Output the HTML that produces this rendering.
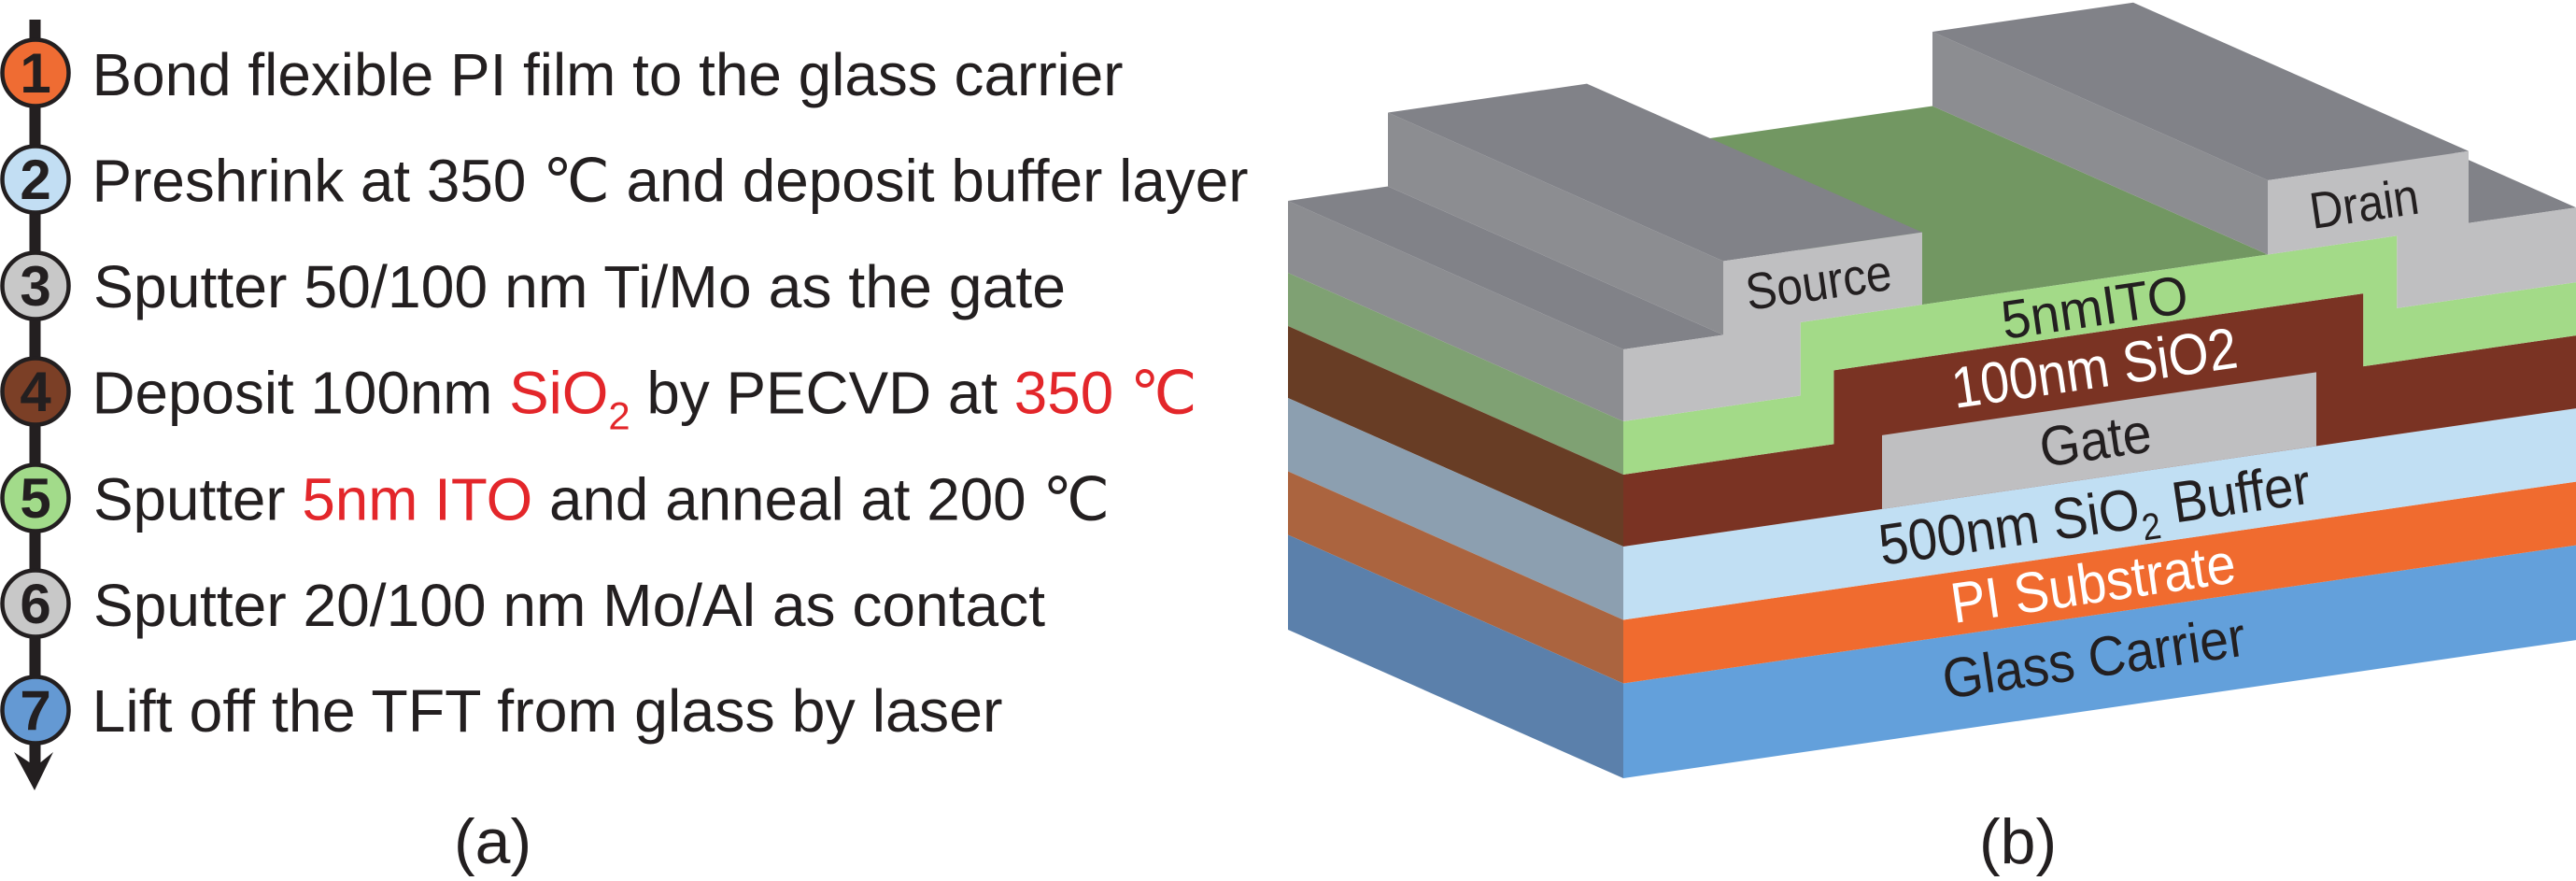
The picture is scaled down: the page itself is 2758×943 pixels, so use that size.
<!DOCTYPE html>
<html><head><meta charset="utf-8"><style>
html,body{margin:0;padding:0;background:#fff;}
svg{display:block;}
.t{font-family:"Liberation Sans","DejaVu Sans",sans-serif;fill:#231f20;}
.r{fill:#e3262a;}
.n{font-family:"Liberation Sans","DejaVu Sans",sans-serif;font-weight:bold;fill:#231f20;font-size:60px;}
</style></head><body>
<svg width="2758" height="943" viewBox="0 0 2758 943" xmlns="http://www.w3.org/2000/svg">
<rect width="2758" height="943" fill="#fff"/>

<!-- (a) timeline -->
<rect x="31.5" y="21" width="12" height="795" fill="#231f20"/>
<polygon points="15,805 31.5,816 43.5,816 57,805 37,846" fill="#231f20"/>
<g stroke="#231f20" stroke-width="4.5">
<circle cx="38" cy="78" r="35.5" fill="#ef6c33"/>
<circle cx="38" cy="192" r="35.5" fill="#c2def3"/>
<circle cx="38" cy="306" r="35.5" fill="#c8c8c8"/>
<circle cx="38" cy="419" r="35.5" fill="#7b3f26"/>
<circle cx="38" cy="533" r="35.5" fill="#a2db8a"/>
<circle cx="38" cy="646" r="35.5" fill="#c8c8c8"/>
<circle cx="38" cy="760" r="35.5" fill="#6499d3"/>
</g>
<g class="n" text-anchor="middle">
<text x="38" y="99">1</text>
<text x="38" y="213">2</text>
<text x="38" y="327">3</text>
<text x="38" y="440">4</text>
<text x="38" y="554">5</text>
<text x="38" y="667">6</text>
<text x="38" y="781">7</text>
</g>
<g class="t" font-size="64">
<text x="98.5" y="102" textLength="1104" lengthAdjust="spacingAndGlyphs">Bond flexible PI film to the glass carrier</text>
<text x="98.5" y="215.5" textLength="1238" lengthAdjust="spacingAndGlyphs">Preshrink at 350 ℃ and deposit buffer layer</text>
<text x="100" y="329" textLength="1041" lengthAdjust="spacingAndGlyphs">Sputter 50/100 nm Ti/Mo as the gate</text>
<text x="98.5" y="442.5" textLength="1183" lengthAdjust="spacingAndGlyphs">Deposit 100nm <tspan class="r">SiO</tspan><tspan class="r" font-size="42" dy="17">2</tspan><tspan dy="-17"> by PECVD at </tspan><tspan class="r">350 ℃</tspan></text>
<text x="100" y="556.5" textLength="1088" lengthAdjust="spacingAndGlyphs">Sputter <tspan class="r">5nm ITO</tspan> and anneal at 200 ℃</text>
<text x="100" y="670" textLength="1019" lengthAdjust="spacingAndGlyphs">Sputter 20/100 nm Mo/Al as contact</text>
<text x="98.5" y="783" textLength="975" lengthAdjust="spacingAndGlyphs">Lift off the TFT from glass by laser</text>
<text x="486" y="924" font-size="68">(a)</text>
<text x="2119" y="924" font-size="68">(b)</text>
</g>

<!-- (b) left side faces -->
<g>
<polygon points="1738,374 1738,451 1379,292 1379,215" fill="#8c8d91"/>
<polygon points="1738,451 1738,508 1379,349 1379,292" fill="#7fa173"/>
<polygon points="1738,508 1738,585 1379,426 1379,349" fill="#683d25"/>
<polygon points="1738,585 1738,663.5 1379,504.5 1379,426" fill="#8c9fb0"/>
<polygon points="1738,663.5 1738,731.5 1379,572.5 1379,504.5" fill="#ab643f"/>
<polygon points="1738,731.5 1738,833 1379,674 1379,572.5" fill="#5b80ab"/>
</g>
<!-- top faces -->
<g>
<polygon points="2643,238.8 2758,222.1 2399,63.1 2284,79.8" fill="#818288"/>
<polygon points="2058,326.1 2428,272.45 2069,113.45 1699,167.1" fill="#729762"/>
<polygon points="1738,374 1845,358.5 1486,199.5 1379,215" fill="#818288"/>
<polygon points="1845,358.5 1845,279.5 1486,120.5 1486,199.5" fill="#8c8d91"/>
<polygon points="1845,279.5 2058,248.6 1699,89.6 1486,120.5" fill="#818288"/>
<polygon points="2428,272.45 2428,192.95 2069,33.95 2069,113.45" fill="#8c8d91"/>
<polygon points="2428,192.95 2643,161.8 2284,2.8 2069,33.95" fill="#818288"/>
</g>
<!-- front faces -->
<g transform="matrix(1,-0.145,0,1,0,252.01)">
<polygon points="1738,731.5 2758,731.5 2758,833 1738,833" fill="#63a0db"/>
<polygon points="1738,663.5 2758,663.5 2758,731.5 1738,731.5" fill="#f06b2f"/>
<polygon points="1738,585 2758,585 2758,663.5 1738,663.5" fill="#c1dff3"/>
<polygon points="1738,585 1738,508 1963.3,508 1963.3,429 2530.3,429 2530.3,507 2758,507 2758,585" fill="#7a3323"/>
<rect x="2015" y="506" width="465" height="79" fill="#bfbfc1"/>
<polygon points="1738,508 1738,451 1927.7,451 1927.7,372.5 2566.3,372.5 2566.3,450 2758,450 2758,507 2530.3,507 2530.3,429 1963.3,429 1963.3,508" fill="#a3da88"/>
<polygon points="1738,451 1738,374 1845,374 1845,295 2058,295 2058,372.5 1927.7,372.5 1927.7,451" fill="#bfbfc1"/>
<polygon points="2428,372.5 2428,293 2643,293 2643,370 2758,370 2758,450 2566.3,450 2566.3,372.5" fill="#bfbfc1"/>
</g>

<!-- (b) labels -->
<g class="t">
<text x="1872" y="332" font-size="55" textLength="157" lengthAdjust="spacingAndGlyphs" transform="rotate(-8.25 1872 332)">Source</text>
<text x="2476" y="245" font-size="55" textLength="117" lengthAdjust="spacingAndGlyphs" transform="rotate(-8.25 2476 245)">Drain</text>
<text x="2146" y="363" font-size="58" textLength="201" lengthAdjust="spacingAndGlyphs" transform="rotate(-8.25 2146 363)">5nmITO</text>
<text x="2093" y="437" font-size="62" textLength="308" lengthAdjust="spacingAndGlyphs" transform="rotate(-8.25 2093 437)" style="fill:#fff">100nm SiO2</text>
<text x="2187" y="500" font-size="60" textLength="120" lengthAdjust="spacingAndGlyphs" transform="rotate(-8.25 2187 500)">Gate</text>
<text x="2015" y="605" font-size="62" textLength="466" lengthAdjust="spacingAndGlyphs" transform="rotate(-8.25 2015 605)">500nm SiO<tspan font-size="40" dy="14">2</tspan><tspan dy="-14"> Buffer</tspan></text>
<text x="2092" y="667" font-size="61" textLength="307" lengthAdjust="spacingAndGlyphs" transform="rotate(-8.25 2092 667)" style="fill:#fff">PI Substrate</text>
<text x="2083" y="748" font-size="60" textLength="327" lengthAdjust="spacingAndGlyphs" transform="rotate(-8.25 2083 748)">Glass Carrier</text>
</g>
</svg>
</body></html>
